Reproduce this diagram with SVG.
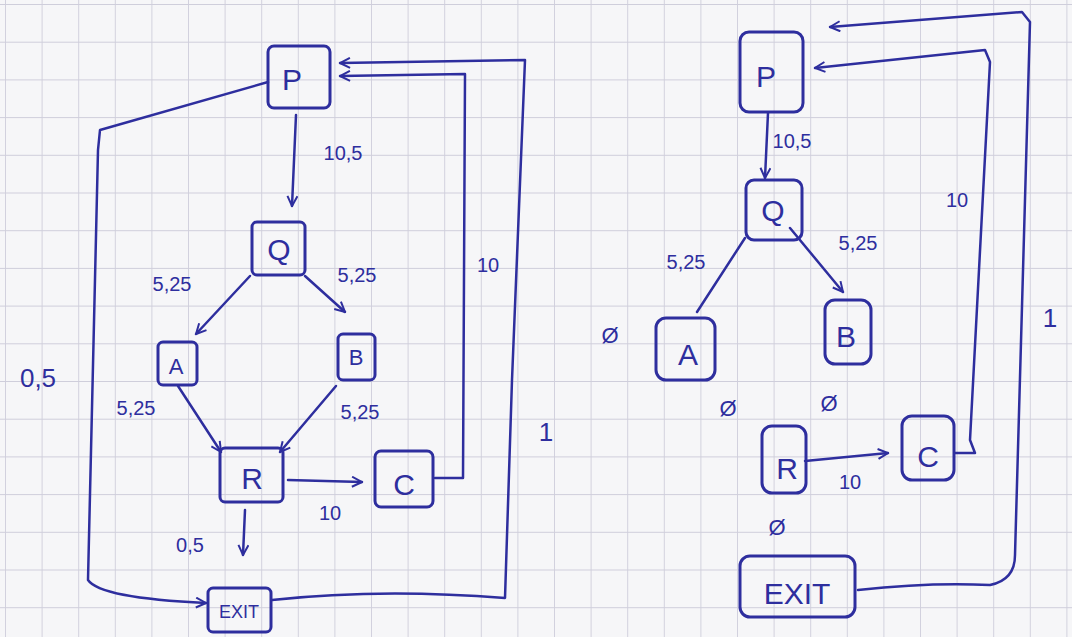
<svg xmlns="http://www.w3.org/2000/svg" width="1072" height="637" viewBox="0 0 1072 637">
<defs>
<pattern id="grid" x="5" y="4" width="36.6" height="37.7" patternUnits="userSpaceOnUse">
<path d="M0 0 H36.6 M0 0 V37.7" fill="none" stroke="#cfcedb" stroke-width="1.8"/>
</pattern>
<marker id="ah" viewBox="0 0 12 12" refX="11" refY="6" markerWidth="12" markerHeight="12" markerUnits="userSpaceOnUse" orient="auto">
<path d="M1 1 L11 6 L1 11" fill="none" stroke="#2e2e9e" stroke-width="2"/>
</marker>
<style>
.ink{fill:none;stroke:#2e2e9e;stroke-width:2.5;stroke-linecap:round;stroke-linejoin:round}
.box{fill:none;stroke:#2e2e9e;stroke-width:3}
.lbl{font-family:"Liberation Sans",Arial,sans-serif;fill:#2e2e9e;text-anchor:middle;dominant-baseline:central}
.n{font-size:30px}
.w{font-size:20px}
.z{font-size:22px}
</style>
</defs>
<rect width="1072" height="637" fill="#f6f6f8"/>
<rect width="1072" height="637" fill="url(#grid)"/>

<g id="connectors">
<!-- left graph -->
<path class="ink" d="M296 115 L292 206" marker-end="url(#ah)"/>
<path class="ink" d="M250 276 L196 334" marker-end="url(#ah)"/>
<path class="ink" d="M305 276 L345 312" marker-end="url(#ah)"/>
<path class="ink" d="M178 386 L221 452" marker-end="url(#ah)"/>
<path class="ink" d="M336 386 L280 452" marker-end="url(#ah)"/>
<path class="ink" d="M288 480 L362 482" marker-end="url(#ah)"/>
<path class="ink" d="M245 510 L243 555" marker-end="url(#ah)"/>
<path class="ink" d="M435 478 L463 478 L465 74 L340 76" marker-end="url(#ah)"/>
<path class="ink" d="M272 600 Q380 588 505 598 L512 380 L525 60 L340 63" marker-end="url(#ah)"/>
<path class="ink" d="M268 82 L100 130 L98 150 L88 580 Q100 598 206 603" marker-end="url(#ah)"/>
<!-- right graph -->
<path class="ink" d="M768 113 L765 178" marker-end="url(#ah)"/>
<path class="ink" d="M745 238 L697 312"/>
<path class="ink" d="M790 228 L843 292" marker-end="url(#ah)"/>
<path class="ink" d="M805 461 L888 453" marker-end="url(#ah)"/>
<path class="ink" d="M955 453 L975 453 L970 440 L990 62 L985 50 L815 68" marker-end="url(#ah)"/>
<path class="ink" d="M858 590 Q930 582 990 585 Q1015 580 1015 555 L1030 22 L1022 12 L830 27" marker-end="url(#ah)"/>
</g>

<g id="labels">
<text class="lbl w" x="343" y="153">10,5</text>
<text class="lbl w" x="172" y="284">5,25</text>
<text class="lbl w" x="357" y="275">5,25</text>
<text class="lbl w" x="136" y="408">5,25</text>
<text class="lbl w" x="360" y="412">5,25</text>
<text class="lbl w" x="330" y="513">10</text>
<text class="lbl w" x="190" y="545">0,5</text>
<text class="lbl w" x="488" y="265">10</text>
<text class="lbl" style="font-size:26px" x="38" y="378">0,5</text>
<text class="lbl" style="font-size:26px" x="546" y="432">1</text>
<text class="lbl w" x="792" y="141">10,5</text>
<text class="lbl w" x="686" y="262">5,25</text>
<text class="lbl w" x="858" y="243">5,25</text>
<text class="lbl w" x="850" y="482">10</text>
<text class="lbl w" x="957" y="200">10</text>
<text class="lbl" style="font-size:26px" x="1050" y="318">1</text>
<text class="lbl z" x="610" y="335">Ø</text>
<text class="lbl z" x="728" y="408">Ø</text>
<text class="lbl z" x="829" y="403">Ø</text>
<text class="lbl z" x="777" y="527">Ø</text>
</g>

<g id="L-P"><rect class="box" x="268" y="46" width="62" height="62" rx="6"/><text class="lbl n" x="292" y="79">P</text></g>
<g id="L-Q"><rect class="box" x="252" y="222" width="53" height="53" rx="5"/><text class="lbl n" x="279" y="249">Q</text></g>
<g id="L-A"><rect class="box" x="158" y="342" width="39" height="43" rx="5"/><text class="lbl" style="font-size:22px" x="176" y="366">A</text></g>
<g id="L-B"><rect class="box" x="338" y="334" width="37" height="46" rx="5"/><text class="lbl" style="font-size:22px" x="356" y="357">B</text></g>
<g id="L-R"><rect class="box" x="220" y="448" width="63" height="54" rx="5"/><text class="lbl n" x="252" y="478">R</text></g>
<g id="L-C"><rect class="box" x="375" y="451" width="58" height="56" rx="6"/><text class="lbl n" x="404" y="484">C</text></g>
<g id="L-EXIT"><rect class="box" x="208" y="588" width="63" height="44" rx="5"/><text class="lbl" style="font-size:18px" x="239" y="612">EXIT</text></g>

<g id="R-P"><rect class="box" x="740" y="32" width="63" height="80" rx="9"/><text class="lbl n" x="766" y="76">P</text></g>
<g id="R-Q"><rect class="box" x="746" y="180" width="56" height="60" rx="8"/><text class="lbl n" x="773" y="210">Q</text></g>
<g id="R-A"><rect class="box" x="656" y="318" width="59" height="62" rx="10"/><text class="lbl n" x="688" y="354">A</text></g>
<g id="R-B"><rect class="box" x="825" y="300" width="46" height="64" rx="10"/><text class="lbl n" x="846" y="336">B</text></g>
<g id="R-R"><rect class="box" x="762" y="426" width="44" height="67" rx="10"/><text class="lbl n" x="787" y="468">R</text></g>
<g id="R-C"><rect class="box" x="902" y="416" width="52" height="64" rx="10"/><text class="lbl n" x="928" y="456">C</text></g>
<g id="R-EXIT"><rect class="box" x="740" y="556" width="115" height="61" rx="10"/><text class="lbl n" x="797" y="593">EXIT</text></g>
</svg>
